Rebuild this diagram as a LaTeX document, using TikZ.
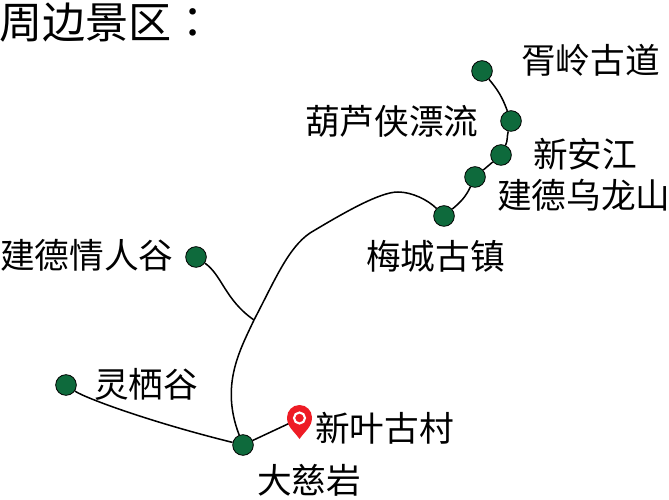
\documentclass[tikz,border=0pt]{standalone}
\usepackage{fontspec}
\usepackage{tikz}
\usetikzlibrary{positioning}
\setmainfont{Noto Sans CJK SC}
\newfontfamily\colonfont{Noto Sans CJK TC}
\definecolor{spotgreen}{RGB}{14,106,60}
\definecolor{pinred}{RGB}{238,28,37}
\tikzset{
spot/.style={circle,draw=black,fill=spotgreen,line width=0.7pt,minimum size=6.2mm,inner sep=0pt},
place/.style={inner sep=0pt,font=\fontsize{29.6pt}{31pt}\selectfont},
route/.style={line width=1.3pt,black}
}
\begin{document}
\begin{tikzpicture}[x=0.3mm,y=-0.3mm]
\useasboundingbox (0,0) rectangle (669,500);
\fill[white] (0,0) rectangle (669,500);
% spots
\node[spot] (xuling) at (482,71) {};
\node[spot] (hulu) at (511,121) {};
\node[spot] (xinan) at (501,155) {};
\node[spot] (wulong) at (475,177) {};
\node[spot] (meicheng) at (444,216) {};
\node[spot] (qingren) at (196,257) {};
\node[spot] (lingqi) at (66,385) {};
\node[spot] (daci) at (243,445) {};
\coordinate (pinjoin) at (290,423);
\coordinate (fork) at (254,320);
% routes
\draw[route] (xuling) to[out=-50,in=110] (hulu);
\draw[route] (hulu) to[out=-105,in=65] (xinan);
\draw[route] (xinan) -- (wulong);
\draw[route] (wulong) to[out=-115,in=40] (meicheng);
\draw[route] (meicheng) .. controls (428,200) and (412,192) .. (398,192)
  .. controls (380,192) and (345,212) .. (310,233)
  .. controls (288,248) and (275,280) .. (fork)
  .. controls (240,350) and (220,385) .. (daci);
\draw[route] (qingren) .. controls (222,275) and (225,300) .. (fork);
\draw[route] (lingqi) .. controls (85,398) and (150,422) .. (daci);
\draw[route] (daci) -- (pinjoin);
% pin
\fill[pinred] (299.5,439) .. controls (294,431) and (287,427) .. (287,417.5)
  arc[start angle=180,end angle=360,radius=12.5] .. controls (312,427) and (305,431) .. (299.5,439);
\draw[white,line width=1.8pt] (299.5,418) circle[radius=5.5];
% labels
\node[place,anchor=west,font=\fontsize{36.8pt}{38pt}\selectfont] (title) at (-1,23) {周边景区{\colonfont ：}};
\node[place,anchor=west] (txtxuling) at (521,60) {胥岭古道};
\node[place,anchor=west] (txthulu) at (305,121) {葫芦侠漂流};
\node[place,anchor=west] (txtxinan) at (533,154) {新安江};
\node[place,anchor=west] (txtwulong) at (497,195) {建德乌龙山};
\node[place,anchor=west] (txtmeicheng) at (366,256) {梅城古镇};
\node[place,anchor=west] (txtqingren) at (0,255) {建德情人谷};
\node[place,anchor=west] (txtlingqi) at (94,384) {灵栖谷};
\node[place,anchor=west] (txtxinye) at (315,428) {新叶古村};
\node[place,anchor=west] (txtdaci) at (257,480) {大慈岩};
\end{tikzpicture}
\end{document}
